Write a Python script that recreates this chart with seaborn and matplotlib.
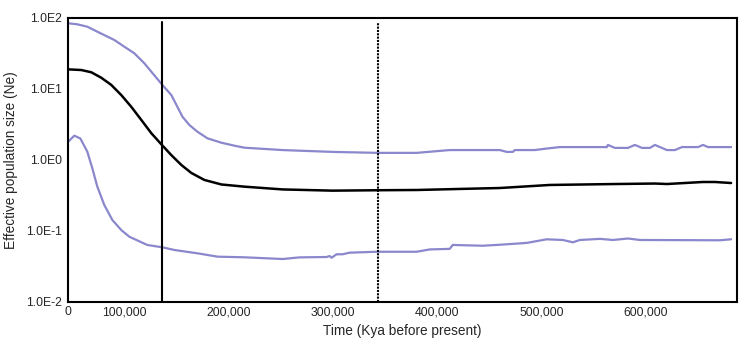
#! /usr/bin/env python
"""
Bayesian skyline plot: effective population size through time
"""

import pandas as pd
import seaborn as sns
import matplotlib.pyplot as plt
from matplotlib.ticker import FixedLocator, NullLocator

# upper 95% HPD
upper_time = [46200, 54900, 64500, 74100, 90400, 100000, 109600, 119200, 126900,
              136500, 145100, 150900, 155700, 162400, 170100, 179700, 193100, 205600,
              215200, 251700, 299700, 342900, 380300, 412000,
              460000, 466700, 472500, 474400, 493600, 505000, 517600, 562700, 563700,
              570400, 582900, 589600, 596300, 604000, 608800, 620300, 628000, 634700,
              650100, 654900, 659700, 681800]
upper_ne = [84.2, 81.5, 75.4, 64.1, 49.0, 39.4, 31.8, 23.0, 16.8,
            11.4, 8.2, 5.6, 4.07, 3.11, 2.50, 2.02, 1.75, 1.59,
            1.49, 1.38, 1.30, 1.26, 1.26, 1.38,
            1.38, 1.30, 1.30, 1.38, 1.38, 1.45, 1.52, 1.52, 1.63,
            1.48, 1.48, 1.63, 1.48, 1.48, 1.63, 1.38, 1.38, 1.52,
            1.52, 1.63, 1.52, 1.52]

# median
median_time = [46200, 58700, 68300, 77900, 87500, 97100, 106700, 116300, 125900,
               136500, 145100, 154700, 164300, 176800, 193100, 215200, 251700, 299700,
               342900, 380300, 421600, 460000, 508000, 572300, 608800, 620300, 654900,
               666400, 681800]
median_ne = [18.9, 18.5, 17.2, 14.4, 11.4, 8.2, 5.6, 3.66, 2.38,
             1.60, 1.17, 0.85, 0.656, 0.523, 0.452, 0.421, 0.385, 0.37,
             0.375, 0.378, 0.391, 0.403, 0.445, 0.459, 0.466, 0.459, 0.49,
             0.49, 0.474]

# lower 95% HPD
lower_time = [46200, 52000, 57800, 64500, 69300, 74100, 80800, 88500, 97100,
              104800, 122100, 136500, 148000, 170100, 189300, 215200, 251700, 268000,
              294000, 296800, 298700, 303500, 309300, 316000, 341900, 380300, 392800,
              412000, 414900, 443700, 460000, 486000, 505100, 520500, 530100, 536800,
              556000, 568500, 582900, 594400, 671200, 681800]
lower_ne = [1.81, 2.20, 2.01, 1.31, 0.764, 0.421, 0.232, 0.143, 0.103,
            0.083, 0.0635, 0.0589, 0.054, 0.0485, 0.0435, 0.0426, 0.0403, 0.0425,
            0.043, 0.0444, 0.042, 0.047, 0.047, 0.0495, 0.051, 0.051, 0.055,
            0.056, 0.0636, 0.062, 0.064, 0.068, 0.0764, 0.0747, 0.0693, 0.0747,
            0.0775, 0.0747, 0.0784, 0.0747, 0.074, 0.0764]

# marked events (solid and dotted vertical lines)
event_times = [136500, 342900]

x_ticks = [100000, 200000, 300000, 400000, 500000, 600000]
x_tick_labels = ["100,000", "200,000", "300,000", "400,000", "500,000", "600,000"]
x_minor = [50000, 150000, 250000, 350000, 450000, 550000, 650000]
y_ticks = [1e-2, 1e-1, 1e0, 1e1, 1e2]
y_tick_labels = ["1.0E-2", "1.0E-1", "1.0E0", "1.0E1", "1.0E2"]

HPD_COLOR = "#8a87cd"


def run() -> None:
    sns.set_style("white")
    plt.rcParams["font.family"] = ["Liberation Sans", "DejaVu Sans"]

    fig = plt.figure(figsize=(7.5, 3.48), dpi=100)
    ax = fig.add_axes([0.0907, 0.1322, 0.892, 0.8161])

    upper = pd.DataFrame({"time": upper_time, "ne": upper_ne})
    median = pd.DataFrame({"time": median_time, "ne": median_ne})
    lower = pd.DataFrame({"time": lower_time, "ne": lower_ne})

    sns.lineplot(data=upper, x="time", y="ne", color=HPD_COLOR, linewidth=1.6, ax=ax)
    sns.lineplot(data=lower, x="time", y="ne", color=HPD_COLOR, linewidth=1.6, ax=ax)
    sns.lineplot(data=median, x="time", y="ne", color="black", linewidth=1.8, ax=ax)

    ax.axvline(event_times[0], ymax=0.985, color="black", linewidth=1.5)
    ax.axvline(event_times[1], ymax=0.985, color="black", linewidth=1.5,
               linestyle=(0, (1, 0.6)))

    ax.set_yscale("log")
    ax.set_ylim(1e-2, 1e2)
    ax.set_xlim(46000, 687500)

    ax.set_yticks(y_ticks)
    ax.set_yticklabels(y_tick_labels)
    ax.yaxis.set_minor_locator(NullLocator())
    ax.set_xticks([46000] + x_ticks)
    ax.set_xticklabels(["0"] + x_tick_labels)
    ax.xaxis.set_minor_locator(FixedLocator(x_minor))

    ax.tick_params(axis="y", length=0, pad=4, labelsize=8.8)
    ax.tick_params(axis="x", which="both", direction="out", length=2.5,
                   width=1, pad=3, labelsize=8.8, color="black")
    ax.tick_params(axis="x", which="major", length=0)

    for spine in ax.spines.values():
        spine.set_color("black")
        spine.set_linewidth(1.5)

    ax.set_xlabel("Time (Kya before present)", fontsize=9.8, labelpad=4)
    ax.set_ylabel("Effective population size (Ne)", fontsize=9.8, labelpad=6)

    plt.savefig("out.png", dpi=100)


if __name__ == "__main__":
    run()
